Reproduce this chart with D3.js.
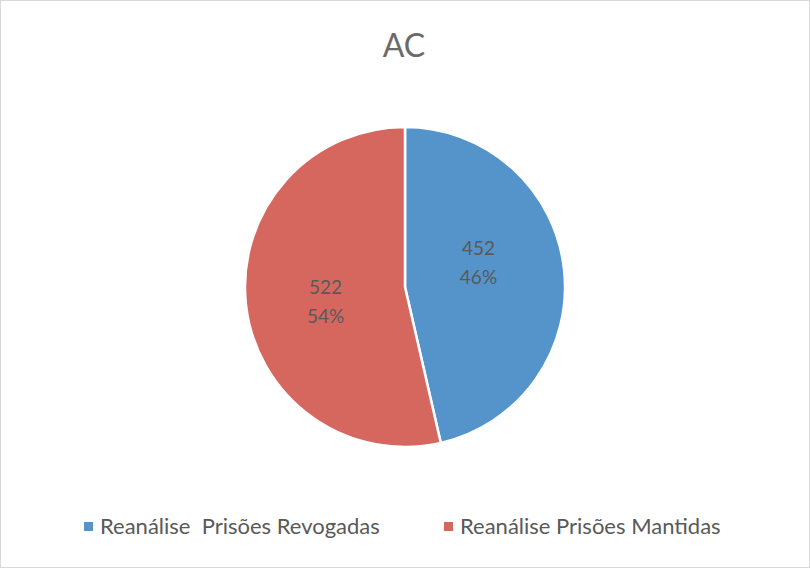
<!DOCTYPE html>
<html><head><meta charset="utf-8">
<script src="https://cdn.jsdelivr.net/npm/d3@7"></script>
<style>body{margin:0;background:#fff}svg{display:block}</style>
</head><body>
<script>
const title = "AC";
const categories = ["Reanálise  Prisões Revogadas", "Reanálise Prisões Mantidas"];
const values = [452, 522];
const colors = ["#5494CA", "#D6675F"];

const W = 810, H = 568;
const svg = d3.select("body").append("svg").attr("width", W).attr("height", H);
svg.append("rect").attr("x", 0.5).attr("y", 0.5).attr("width", W - 1).attr("height", H - 1)
  .attr("fill", "#fff").attr("stroke", "#d9d9d9");

const font = "Lato, 'Open Sans', sans-serif";
svg.append("text").attr("x", 404).attr("y", 57).attr("text-anchor", "middle")
  .attr("font-family", font).attr("font-size", 32).attr("fill", "#6a6a6a").text(title);

const cx = 405, cy = 287, R = 160;
const total = d3.sum(values);
const pie = d3.pie().sort(null).value(d => d);
const arcs = pie(values);
const arc = d3.arc().innerRadius(0).outerRadius(R);
const g = svg.append("g").attr("transform", `translate(${cx},${cy})`);
g.selectAll("path").data(arcs).join("path")
  .attr("d", arc).attr("fill", (d, i) => colors[i])
  .attr("stroke", "#fff").attr("stroke-width", 2.5).attr("stroke-linejoin", "round");

const labelArc = d3.arc().innerRadius(R * 0.5).outerRadius(R * 0.5);
const nudge = [[-6, -15], [0, 6]];
arcs.forEach((d, i) => {
  const [x, y] = labelArc.centroid(d);
  const t = g.append("text").attr("text-anchor", "middle")
    .attr("font-family", font).attr("font-size", 19).attr("fill", "#595959");
  t.append("tspan").attr("x", x + nudge[i][0]).attr("y", y + nudge[i][1] - 8).text(values[i]);
  t.append("tspan").attr("x", x + nudge[i][0]).attr("y", y + nudge[i][1] + 21)
    .text(Math.round(values[i] / total * 100) + "%");
});

const legX = [84, 444];
categories.forEach((c, i) => {
  svg.append("rect").attr("x", legX[i]).attr("y", 522).attr("width", 9).attr("height", 9).attr("fill", colors[i]);
  svg.append("text").attr("x", legX[i] + 16).attr("y", 534)
    .attr("font-family", font).attr("font-size", 22).attr("fill", "#595959")
    .attr("xml:space", "preserve").style("white-space", "pre").text(c);
});
</script>
</body></html>
